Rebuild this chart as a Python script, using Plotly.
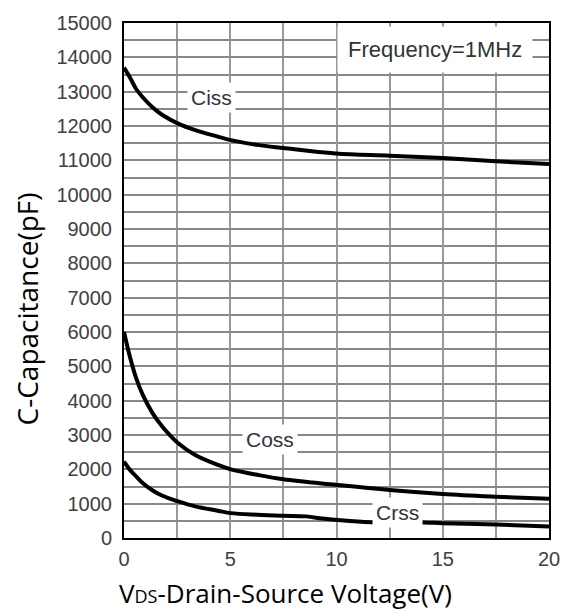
import plotly.graph_objects as go

v_ciss = [0, 0.28, 0.58, 0.89, 1.35, 1.81, 2.55, 3.35, 4.42, 5.03, 6.27, 7.5, 9.96, 12.5, 15, 17.5, 20]
ciss = [13700, 13410, 13070, 12830, 12540, 12320, 12070, 11880, 11690, 11590, 11450, 11360, 11200, 11135, 11065, 10970, 10890]

v_coss = [0, 0.28, 0.58, 0.89, 1.35, 1.81, 2.55, 3.35, 4.42, 5.03, 6.27, 7.5, 9.96, 12.5, 15, 17.5, 20]
coss = [6000, 5270, 4640, 4160, 3630, 3240, 2760, 2420, 2130, 2000, 1840, 1710, 1550, 1400, 1285, 1205, 1140]

v_crss = [0, 0.28, 0.58, 0.89, 1.35, 1.81, 2.55, 3.35, 4.42, 5.03, 6.27, 7.5, 8.57, 9.34, 9.96, 11.6, 14.1, 15, 17.5, 20]
crss = [2225, 1985, 1790, 1595, 1385, 1230, 1065, 920, 795, 725, 677, 648, 630, 565, 530, 460, 455, 430, 390, 335]

labels = [("Ciss", 4.11, 12826), ("Coss", 6.87, 2855), ("Crss", 12.87, 745)]
freq_label = ("Frequency=1MHz", 14.63, 14232)
x_ticks = [0, 5, 10, 15, 20]
y_ticks = list(range(0, 15001, 1000))

fig = go.Figure()
for xs, ys in [(v_ciss, ciss), (v_coss, coss), (v_crss, crss)]:
    fig.add_trace(go.Scatter(x=xs, y=ys, mode="lines",
                             line=dict(color="black", width=4, shape="spline", smoothing=1.0),
                             showlegend=False, hoverinfo="skip"))

arial = "Liberation Sans, Arial, sans-serif"
segoe = "Open Sans, Noto Sans, sans-serif"
tick_font = dict(family=arial, size=20, color="#404040")
for name, x, y in labels:
    fig.add_annotation(x=x, y=y, text=name, showarrow=False, bgcolor="white",
                       font=dict(family=arial, size=21, color="#333340"), borderpad=3)
fig.add_annotation(x=freq_label[1], y=freq_label[2], text=freq_label[0], showarrow=False,
                   bgcolor="white", font=dict(family=arial, size=22, color="#333333"), borderpad=10)

fig.add_annotation(xref="paper", yref="paper", x=0.379, y=-0.106,
                   xanchor="center", yanchor="middle",
                   text="V<span style='font-size:18px'>DS</span>-Drain-Source Voltage(V)",
                   showarrow=False,
                   font=dict(family=segoe, size=26, color="black"))
fig.add_annotation(xref="paper", yref="paper", x=-0.228, y=0.444, textangle=-90,
                   xanchor="center", yanchor="middle",
                   text="C-Capacitance(pF)", showarrow=False,
                   font=dict(family=segoe, size=28, color="black"))

fig.update_layout(
    width=572, height=611,
    margin=dict(l=124, r=14, t=22, b=73),
    paper_bgcolor="white", plot_bgcolor="white",
    xaxis=dict(range=[0, 20], tickvals=x_ticks, ticktext=[str(t) for t in x_ticks],
               showgrid=True, gridcolor="#999999", gridwidth=1.5,
               minor=dict(dtick=2.5, showgrid=True, gridcolor="#999999", gridwidth=1.5),
               showline=True, linecolor="black", linewidth=2, mirror=True,
               ticks="", tickfont=tick_font, zeroline=False, ticklabelstandoff=2),
    yaxis=dict(range=[0, 15000], tickvals=y_ticks, ticktext=[str(t) for t in y_ticks],
               showgrid=True, gridcolor="#888888", gridwidth=1.5,
               minor=dict(dtick=500, showgrid=True, gridcolor="#888888", gridwidth=1.5),
               showline=True, linecolor="black", linewidth=2, mirror=True,
               ticks="", tickfont=tick_font, zeroline=False, ticklabelstandoff=6),
)

fig.write_html("out.html")
